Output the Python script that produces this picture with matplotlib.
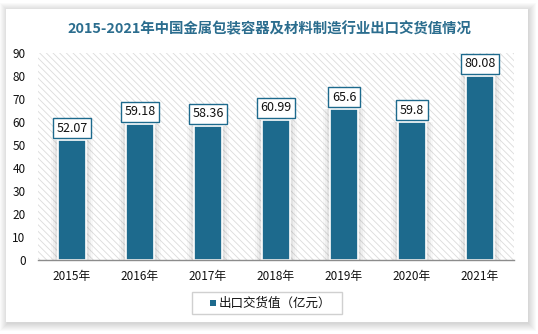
import matplotlib
matplotlib.use("Agg")
import matplotlib.pyplot as plt
from matplotlib.patches import Rectangle
import numpy as np

plt.rcParams["font.family"] = ["Noto Sans CJK SC", "DejaVu Sans"]
plt.rcParams["hatch.linewidth"] = 0.6
plt.rcParams["hatch.color"] = "#dcdcdc"

years = ["2015年", "2016年", "2017年", "2018年", "2019年", "2020年", "2021年"]
export_value = [52.07, 59.18, 58.36, 60.99, 65.6, 59.8, 80.08]
series_name = "出口交货值（亿元）"
title = "2015-2021年中国金属包装容器及材料制造行业出口交货值情况"

BAR = "#1d6a8d"
TITLE_C = "#2b6d8e"

W, H = 538, 334
fig = plt.figure(figsize=(W / 100, H / 100), dpi=100, facecolor="white")

# card with soft drop shadow
cx0, cy0, cx1, cy1 = 6, 9, 528, 322
for k in range(8, 0, -1):
    fig.patches.append(Rectangle(
        ((cx0 - k + 2) / W, (H - cy1 - k - 1) / H),
        (cx1 - cx0 + 2 * k - 2) / W, (cy1 - cy0 + 2 * k - 1) / H,
        transform=fig.transFigure, fc="#000000", ec="none", alpha=0.018, zorder=0))
fig.patches.append(Rectangle(
    (cx0 / W, (H - cy1) / H), (cx1 - cx0) / W, (cy1 - cy0) / H,
    transform=fig.transFigure, fc="white", ec="none", zorder=1))

ax = fig.add_axes([38 / W, (H - 260) / H, (514 - 38) / W, (260 - 53) / H])
ax.set_zorder(2)
ax.patch.set_alpha(0)

x = np.arange(len(years))
ax.set_xlim(-0.5, len(years) - 0.5)
ax.set_ylim(0, 90)

# hatched plot background
ax.add_patch(Rectangle((0, 0), 1, 1, transform=ax.transAxes, fc="white",
                       ec="#dcdcdc", lw=0, hatch="\\\\\\\\\\", zorder=0))

# blurred shadow behind each bar
for k, a in [(0.62, 0.05), (0.55, 0.07), (0.5, 0.09)]:
    ax.bar(x, export_value, width=k, color="#7a7a7a", alpha=a, lw=0, zorder=1)
ax.bar(x, export_value, width=0.42, color=BAR, edgecolor="white", lw=1.2, zorder=2)

for xi, v in zip(x, export_value):
    ax.text(xi, v + 2.4, f"{v:g}", ha="center", va="bottom", fontsize=9,
            color="#111111", zorder=4,
            bbox=dict(boxstyle="square,pad=0.28", fc="white", ec=BAR, lw=1.0))

ax.set_yticks(range(0, 91, 10))
ax.set_xticks(x)
ax.set_xticklabels(years)
ax.tick_params(axis="both", length=0, labelsize=8.5, colors="#111111")
ax.tick_params(axis="y", pad=9)
ax.tick_params(axis="x", pad=7)
for s in ["top", "right", "left"]:
    ax.spines[s].set_visible(False)
ax.spines["bottom"].set_color("#8c8c8c")
ax.spines["bottom"].set_linewidth(1.0)
ax.spines["bottom"].set_zorder(5)

fig.text(0.5, (H - 29) / H, title, ha="center", va="center", fontsize=10.4,
         fontweight="bold", color=TITLE_C, zorder=3)

# legend box
lx0, ly0, lx1, ly1 = 192, 292, 342, 314
fig.patches.append(Rectangle((lx0 / W, (H - ly1) / H), (lx1 - lx0) / W, (ly1 - ly0) / H,
                             transform=fig.transFigure, fc="white", ec="#d0d0d0",
                             lw=1.0, zorder=3))
fig.patches.append(Rectangle((210 / W, (H - 306) / H), 6 / W, 6 / H,
                             transform=fig.transFigure, fc=BAR, ec="none", zorder=4))
fig.text(219 / W, (H - 303) / H, series_name, ha="left", va="center", fontsize=9,
         color="#111111", zorder=4)

fig.savefig("out.png", dpi=100, facecolor=fig.get_facecolor())
